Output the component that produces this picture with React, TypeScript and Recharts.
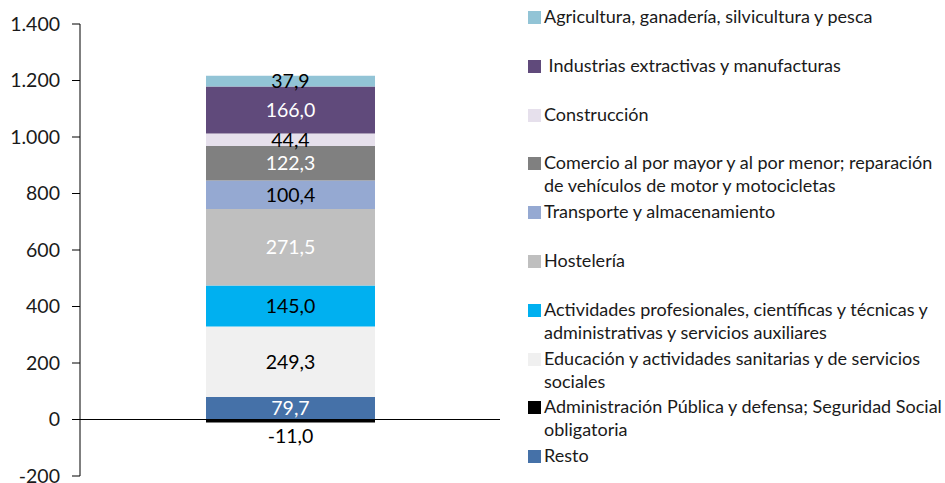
import React from 'react'
import { BarChart, Bar, XAxis, YAxis, ReferenceLine, LabelList } from 'recharts'

// bottom-to-top stacking order
const sectors = [
  'Administración Pública y defensa; Seguridad Social obligatoria',
  'Resto',
  'Educación y actividades sanitarias y de servicios sociales',
  'Actividades profesionales, científicas y técnicas y administrativas y servicios auxiliares',
  'Hostelería',
  'Transporte y almacenamiento',
  'Comercio al por mayor y al por menor; reparación de vehículos de motor y motocicletas',
  'Construcción',
  'Industrias extractivas y manufacturas',
  'Agricultura, ganadería, silvicultura y pesca',
]
const values = [-11.0, 79.7, 249.3, 145.0, 271.5, 100.4, 122.3, 44.4, 166.0, 37.9]
const colors = ['#000000', '#4571a8', '#f0f0f0', '#00b0f0', '#bfbfbf', '#95a9d2', '#808080', '#e6e0ec', '#604a7b', '#92c4d6']
const labelColors = ['#000', '#fff', '#000', '#000', '#fff', '#000', '#fff', '#000', '#fff', '#000']
const yTicks = [-200, 0, 200, 400, 600, 800, 1000, 1200, 1400]

// legend, top-to-bottom: sector index and Excel-style line breaks
const legendOrder = [9, 8, 7, 6, 5, 4, 3, 2, 0, 1]
const legendLines = [
  ['Agricultura, ganadería, silvicultura y pesca'],
  [' Industrias extractivas y manufacturas'],
  ['Construcción'],
  ['Comercio al por mayor y al por menor; reparación', 'de vehículos de motor y motocicletas'],
  ['Transporte y almacenamiento'],
  ['Hostelería'],
  ['Actividades profesionales, científicas y técnicas y', 'administrativas y servicios auxiliares'],
  ['Educación y actividades sanitarias y de servicios', 'sociales'],
  ['Administración Pública y defensa; Seguridad Social', 'obligatoria'],
  ['Resto'],
]

const row: Record<string, number | string> = { name: '' }
sectors.forEach((s, i) => { row['s' + i] = values[i] })
const data = [row]

const FONT = 'Lato, "Open Sans", sans-serif'

const fmt = (v: number) => v.toFixed(1).replace('.', ',')
const fmtTick = (v: number) => v.toLocaleString('de-DE')

const makeLabel = (color: string) => (props: any) => {
  const { x, y, width, height, value } = props
  const top = Math.min(y, y + height)
  const bottom = Math.max(y, y + height)
  const cy = value < 0 ? bottom + 13 : (top + bottom) / 2
  return (
    <text x={x + width / 2} y={cy} dy="0.36em" textAnchor="middle" fill={color}
      fontSize={19.5} fontFamily={FONT}>{fmt(value)}</text>
  )
}

function SectorLegend() {
  return (
    <div style={{ position: 'absolute', left: 528, top: 0, fontFamily: FONT, fontSize: 18, color: '#1a1a1a', lineHeight: '23px' }}>
      {legendLines.map((lines, i) => (
        <div key={i} style={{ position: 'absolute', top: 5 + i * 48.8, left: 0, display: 'flex' }}>
          <span style={{ width: 13, height: 13, background: colors[legendOrder[i]], marginTop: 6, marginRight: 3, flex: 'none' }} />
          <div style={{ whiteSpace: 'pre' }}>
            {lines.map((l, j) => <div key={j}>{l}</div>)}
          </div>
        </div>
      ))}
    </div>
  )
}

export default function App() {
  return (
    <div style={{ position: 'absolute', left: 0, top: 0, width: 945, height: 483, background: '#fff' }}>
      <BarChart width={945} height={483} data={data} stackOffset="sign"
        margin={{ top: 24, right: 445, left: 20, bottom: 7 }} barSize={169}>
        <XAxis dataKey="name" hide />
        <YAxis domain={[-200, 1400]} ticks={yTicks} tickFormatter={fmtTick} width={60}
          stroke="#000" tickSize={8} tickMargin={12} interval={0}
          tick={{ fill: '#1a1a1a', fontSize: 19.5, fontFamily: FONT }} />
        {sectors.map((s, i) => (
          <Bar key={s} dataKey={'s' + i} name={s} stackId="a" fill={colors[i]} isAnimationActive={false}>
            <LabelList dataKey={'s' + i} content={makeLabel(labelColors[i])} />
          </Bar>
        ))}
        <ReferenceLine y={0} stroke="#000" strokeWidth={1.2} />
      </BarChart>
      <SectorLegend />
    </div>
  )
}
